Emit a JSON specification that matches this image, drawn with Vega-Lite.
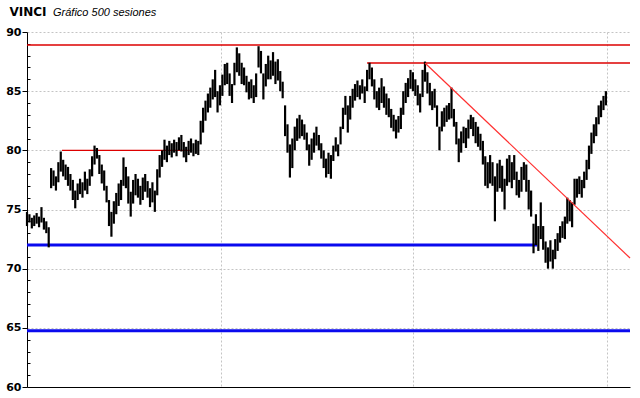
{
  "$schema": "https://vega.github.io/schema/vega-lite/v6.json",
  "width": 603,
  "height": 355,
  "autosize": {"type": "none"},
  "padding": {"left": 27, "top": 32, "right": 10, "bottom": 11},
  "background": "white",
  "title": {
    "text": "Gráfico 500 sesiones",
    "anchor": "start",
    "frame": "group",
    "dx": 26,
    "offset": -22,
    "baseline": "alphabetic",
    "font": "Liberation Sans",
    "fontSize": 11,
    "fontStyle": "italic",
    "fontWeight": "normal",
    "color": "#000000"
  },
  "config": {"view": {"stroke": null}},
  "datasets": {
    "bars": [
      {"s":0,"v":73.6,"v2":74.8},{"s":2,"v":73.9,"v2":74.6},{"s":4,"v":73.4,"v2":74.3},{"s":6,"v":73.6,"v2":74.5},{"s":8,"v":73.8,"v2":74.7},
      {"s":10,"v":73.5,"v2":74.4},{"s":12,"v":73.9,"v2":75.2},{"s":14,"v":73.3,"v2":74.3},{"s":16,"v":73.0,"v2":74.0},{"s":18,"v":71.8,"v2":73.5},
      {"s":20,"v":76.8,"v2":78.5},{"s":22,"v":77.0,"v2":78.3},{"s":24,"v":76.6,"v2":77.8},{"s":26,"v":77.3,"v2":79.0},{"s":28,"v":78.2,"v2":79.9},
      {"s":30,"v":77.8,"v2":79.2},{"s":32,"v":77.5,"v2":78.8},{"s":34,"v":77.0,"v2":78.6},{"s":36,"v":76.6,"v2":78.0},{"s":38,"v":75.8,"v2":77.5},
      {"s":40,"v":75.1,"v2":76.6},{"s":42,"v":75.8,"v2":77.2},{"s":44,"v":76.3,"v2":77.6},{"s":46,"v":76.0,"v2":77.3},{"s":48,"v":76.6,"v2":78.2},
      {"s":50,"v":76.3,"v2":77.6},{"s":52,"v":77.0,"v2":78.4},{"s":54,"v":77.8,"v2":79.5},{"s":56,"v":78.8,"v2":80.4},{"s":58,"v":79.3,"v2":80.2},
      {"s":60,"v":78.0,"v2":79.6},{"s":62,"v":77.2,"v2":78.8},{"s":64,"v":76.6,"v2":78.3},{"s":66,"v":75.6,"v2":77.0},{"s":68,"v":73.6,"v2":75.8},
      {"s":70,"v":72.7,"v2":74.8},{"s":72,"v":73.8,"v2":75.7},{"s":74,"v":74.6,"v2":76.4},{"s":76,"v":75.3,"v2":77.2},{"s":78,"v":75.8,"v2":77.5},
      {"s":80,"v":77.0,"v2":79.4},{"s":82,"v":76.8,"v2":78.6},{"s":84,"v":75.5,"v2":77.8},{"s":86,"v":74.4,"v2":76.5},{"s":88,"v":75.5,"v2":77.5},
      {"s":90,"v":76.2,"v2":78.0},{"s":92,"v":76.0,"v2":77.6},{"s":94,"v":75.4,"v2":77.0},{"s":96,"v":75.8,"v2":77.7},{"s":98,"v":76.5,"v2":78.0},
      {"s":100,"v":76.0,"v2":77.4},{"s":102,"v":75.2,"v2":76.8},{"s":104,"v":75.6,"v2":77.3},{"s":106,"v":74.8,"v2":76.6},{"s":108,"v":76.2,"v2":78.4},
      {"s":110,"v":77.7,"v2":79.6},{"s":112,"v":78.6,"v2":80.0},{"s":114,"v":79.2,"v2":80.9},{"s":116,"v":79.0,"v2":80.4},{"s":118,"v":79.6,"v2":80.8},
      {"s":120,"v":79.4,"v2":80.6},{"s":122,"v":79.8,"v2":80.9},{"s":124,"v":79.5,"v2":80.7},{"s":126,"v":80.0,"v2":81.1},{"s":128,"v":79.9,"v2":81.3},
      {"s":130,"v":79.4,"v2":80.7},{"s":132,"v":79.0,"v2":80.3},{"s":134,"v":79.6,"v2":80.8},{"s":136,"v":79.8,"v2":81.0},{"s":138,"v":79.5,"v2":80.6},
      {"s":140,"v":79.7,"v2":80.9},{"s":142,"v":79.6,"v2":80.8},{"s":144,"v":80.5,"v2":82.5},{"s":146,"v":81.5,"v2":83.6},{"s":148,"v":82.5,"v2":84.2},
      {"s":150,"v":83.2,"v2":84.8},{"s":152,"v":83.6,"v2":85.3},{"s":154,"v":84.3,"v2":86.0},{"s":156,"v":84.5,"v2":86.8},{"s":158,"v":83.2,"v2":85.0},
      {"s":160,"v":83.8,"v2":85.5},{"s":162,"v":84.6,"v2":86.4},{"s":164,"v":85.5,"v2":87.3},{"s":166,"v":85.6,"v2":87.4},{"s":168,"v":84.6,"v2":86.5},
      {"s":170,"v":84.0,"v2":85.6},{"s":172,"v":85.5,"v2":87.4},{"s":174,"v":86.6,"v2":88.7},{"s":176,"v":86.3,"v2":88.2},{"s":178,"v":85.6,"v2":87.4},
      {"s":180,"v":85.5,"v2":87.0},{"s":182,"v":84.9,"v2":86.3},{"s":184,"v":84.3,"v2":85.8},{"s":186,"v":84.4,"v2":86.0},{"s":188,"v":84.0,"v2":85.5},
      {"s":190,"v":84.5,"v2":86.5},{"s":192,"v":87.0,"v2":88.8},{"s":194,"v":86.5,"v2":88.4},{"s":196,"v":84.3,"v2":86.5},{"s":198,"v":85.4,"v2":87.3},
      {"s":200,"v":86.0,"v2":88.0},{"s":202,"v":86.0,"v2":87.6},{"s":204,"v":86.3,"v2":88.3},{"s":206,"v":85.6,"v2":87.5},{"s":208,"v":85.9,"v2":87.7},
      {"s":210,"v":85.0,"v2":86.7},{"s":212,"v":84.4,"v2":85.8},{"s":214,"v":81.2,"v2":83.8},{"s":216,"v":79.8,"v2":82.2},{"s":218,"v":77.7,"v2":80.5},
      {"s":220,"v":78.5,"v2":81.0},{"s":222,"v":80.0,"v2":82.0},{"s":224,"v":80.8,"v2":82.7},{"s":226,"v":81.0,"v2":83.0},{"s":228,"v":81.2,"v2":82.6},
      {"s":230,"v":80.9,"v2":82.2},{"s":232,"v":80.0,"v2":81.5},{"s":234,"v":78.7,"v2":80.5},{"s":236,"v":79.2,"v2":81.0},{"s":238,"v":79.8,"v2":81.5},
      {"s":240,"v":80.4,"v2":82.0},{"s":242,"v":80.0,"v2":81.3},{"s":244,"v":79.3,"v2":80.6},{"s":246,"v":78.5,"v2":80.0},{"s":248,"v":77.7,"v2":79.3},
      {"s":250,"v":78.0,"v2":79.8},{"s":252,"v":77.6,"v2":79.6},{"s":254,"v":79.1,"v2":80.4},{"s":256,"v":79.9,"v2":81.1},{"s":258,"v":79.5,"v2":80.5},
      {"s":260,"v":80.5,"v2":82.0},{"s":262,"v":81.8,"v2":83.6},{"s":264,"v":83.0,"v2":84.6},{"s":266,"v":81.5,"v2":83.8},{"s":268,"v":82.6,"v2":84.6},
      {"s":270,"v":83.6,"v2":85.2},{"s":272,"v":84.2,"v2":85.6},{"s":274,"v":84.5,"v2":85.9},{"s":276,"v":84.3,"v2":85.5},{"s":278,"v":84.8,"v2":86.0},
      {"s":280,"v":84.0,"v2":85.4},{"s":282,"v":85.0,"v2":86.8},{"s":284,"v":86.0,"v2":87.4},{"s":286,"v":85.4,"v2":87.0},{"s":288,"v":84.3,"v2":86.0},
      {"s":290,"v":83.6,"v2":85.0},{"s":292,"v":83.4,"v2":85.3},{"s":294,"v":84.0,"v2":86.1},{"s":296,"v":83.6,"v2":85.4},{"s":298,"v":83.0,"v2":84.8},
      {"s":300,"v":82.8,"v2":84.4},{"s":302,"v":81.9,"v2":83.5},{"s":304,"v":81.6,"v2":83.0},{"s":306,"v":81.0,"v2":82.6},{"s":308,"v":81.5,"v2":82.9},
      {"s":310,"v":81.8,"v2":83.6},{"s":312,"v":83.0,"v2":85.0},{"s":314,"v":84.0,"v2":85.7},{"s":316,"v":84.5,"v2":86.1},{"s":318,"v":85.2,"v2":86.8},
      {"s":320,"v":85.0,"v2":86.6},{"s":322,"v":84.6,"v2":86.0},{"s":324,"v":83.8,"v2":85.5},{"s":326,"v":83.2,"v2":84.8},{"s":328,"v":84.5,"v2":86.8},
      {"s":330,"v":85.8,"v2":87.5},{"s":332,"v":84.8,"v2":86.6},{"s":334,"v":83.8,"v2":85.7},{"s":336,"v":83.4,"v2":85.0},{"s":338,"v":83.6,"v2":85.2},
      {"s":340,"v":82.0,"v2":83.8},{"s":342,"v":80.0,"v2":82.0},{"s":344,"v":81.6,"v2":83.3},{"s":346,"v":82.0,"v2":83.6},{"s":348,"v":82.4,"v2":83.8},
      {"s":350,"v":82.6,"v2":84.0},{"s":352,"v":82.7,"v2":85.3},{"s":354,"v":82.0,"v2":83.5},{"s":356,"v":80.5,"v2":82.4},{"s":358,"v":79.0,"v2":81.0},
      {"s":360,"v":79.8,"v2":81.6},{"s":362,"v":80.6,"v2":82.0},{"s":364,"v":80.2,"v2":81.9},{"s":366,"v":81.0,"v2":82.6},{"s":368,"v":81.8,"v2":83.0},
      {"s":370,"v":81.2,"v2":82.8},{"s":372,"v":80.6,"v2":82.4},{"s":374,"v":80.3,"v2":82.0},{"s":376,"v":80.0,"v2":81.4},{"s":378,"v":78.8,"v2":80.8},
      {"s":380,"v":77.0,"v2":79.5},{"s":382,"v":76.8,"v2":79.0},{"s":384,"v":77.2,"v2":79.6},{"s":386,"v":77.0,"v2":79.0},{"s":388,"v":74.0,"v2":77.8},
      {"s":390,"v":76.5,"v2":78.9},{"s":392,"v":76.8,"v2":79.2},{"s":394,"v":76.5,"v2":78.7},{"s":396,"v":75.0,"v2":77.6},{"s":398,"v":77.0,"v2":79.3},
      {"s":400,"v":77.3,"v2":79.6},{"s":402,"v":76.8,"v2":79.0},{"s":404,"v":77.5,"v2":79.6},{"s":406,"v":76.2,"v2":78.2},{"s":408,"v":76.0,"v2":77.5},
      {"s":410,"v":76.5,"v2":78.6},{"s":412,"v":77.5,"v2":79.0},{"s":414,"v":76.5,"v2":78.8},{"s":416,"v":75.0,"v2":77.5},{"s":418,"v":74.4,"v2":76.6},
      {"s":420,"v":71.3,"v2":73.8},{"s":422,"v":72.0,"v2":74.6},{"s":424,"v":71.5,"v2":73.6},{"s":426,"v":72.5,"v2":75.6},{"s":428,"v":71.6,"v2":73.6},
      {"s":430,"v":70.5,"v2":72.3},{"s":432,"v":70.0,"v2":71.8},{"s":434,"v":70.6,"v2":72.4},{"s":436,"v":70.0,"v2":71.6},{"s":438,"v":70.8,"v2":72.5},
      {"s":440,"v":71.5,"v2":73.0},{"s":442,"v":72.2,"v2":73.6},{"s":444,"v":72.6,"v2":74.0},{"s":446,"v":72.5,"v2":74.4},{"s":448,"v":73.8,"v2":76.0},
      {"s":450,"v":74.0,"v2":75.8},{"s":452,"v":73.5,"v2":75.6},{"s":454,"v":75.4,"v2":77.6},{"s":456,"v":76.0,"v2":77.6},{"s":458,"v":76.3,"v2":77.8},
      {"s":460,"v":76.0,"v2":77.5},{"s":462,"v":76.8,"v2":78.2},{"s":464,"v":77.5,"v2":79.2},{"s":466,"v":78.4,"v2":80.4},{"s":468,"v":79.7,"v2":81.5},
      {"s":470,"v":80.6,"v2":82.2},{"s":472,"v":81.2,"v2":82.8},{"s":474,"v":82.2,"v2":83.8},{"s":476,"v":82.8,"v2":84.2},{"s":478,"v":83.4,"v2":84.6},
      {"s":480,"v":83.8,"v2":85.0}
    ],
    "resistance": [
      {"s":0,"s2":500,"v":88.9,"v2":88.9},
      {"s":29,"s2":135,"v":80.0,"v2":80.0},
      {"s":282,"s2":500,"v":87.38,"v2":87.38}
    ],
    "trend": [
      {"s":330,"s2":500,"v":87.38,"v2":70.9}
    ],
    "support": [
      {"s":0,"s2":423,"v":72.0,"v2":72.0},
      {"s":0,"s2":500,"v":64.75,"v2":64.75}
    ]
  },
  "encoding": {
    "x": {
      "field": "s", "type": "quantitative",
      "scale": {"domain": [0, 500], "nice": false, "zero": false},
      "axis": {
        "values": [161, 320, 481], "labels": false, "ticks": false, "title": null,
        "domainColor": "#000000", "domainWidth": 1,
        "grid": true, "gridColor": "#c4c4c4", "gridDash": [2, 2], "gridWidth": 1
      }
    },
    "y": {
      "field": "v", "type": "quantitative",
      "scale": {"domain": [60, 90], "nice": false, "zero": false},
      "axis": {
        "values": [60,61,62,63,64,65,66,67,68,69,70,71,72,73,74,75,76,77,78,79,80,81,82,83,84,85,86,87,88,89,90],
        "labelExpr": "datum.value % 5 === 0 ? datum.label : ''",
        "labelFont": "DejaVu Sans", "labelFontWeight": "bold", "labelFontSize": 11, "labelColor": "#000000",
        "labelOverlap": false, "labelBound": false, "labelPadding": 1,
        "tickColor": "#000000",
        "tickSize": {"condition": {"test": "datum.value % 5 === 0", "value": 5}, "value": -3},
        "grid": true, "gridColor": "#c4c4c4", "gridDash": [2, 2],
        "gridOpacity": {"condition": {"test": "datum.value % 5 === 0", "value": 1}, "value": 0},
        "domainColor": "#000000",
        "title": "VINCI",
        "titleAngle": 0, "titleAlign": "left", "titleBaseline": "alphabetic",
        "titleX": -18, "titleY": -17,
        "titleFont": "DejaVu Sans", "titleFontSize": 12, "titleFontWeight": "bold", "titleColor": "#000000"
      }
    }
  },
  "layer": [
    {
      "data": {"name": "support"},
      "mark": {"type": "rule", "color": "#0a0aee", "strokeWidth": 3},
      "encoding": {"x2": {"field": "s2"}, "y2": {"field": "v2"}}
    },
    {
      "data": {"name": "resistance"},
      "mark": {"type": "rule", "color": "#dd0000", "strokeWidth": 1.3},
      "encoding": {"x2": {"field": "s2"}, "y2": {"field": "v2"}}
    },
    {
      "data": {"name": "bars"},
      "mark": {"type": "rule", "color": "#000000", "strokeWidth": 2.2},
      "encoding": {"y2": {"field": "v2"}}
    },
    {
      "data": {"name": "trend"},
      "mark": {"type": "rule", "color": "#ff3030", "strokeWidth": 1.2},
      "encoding": {"x2": {"field": "s2"}, "y2": {"field": "v2"}}
    }
  ]
}
